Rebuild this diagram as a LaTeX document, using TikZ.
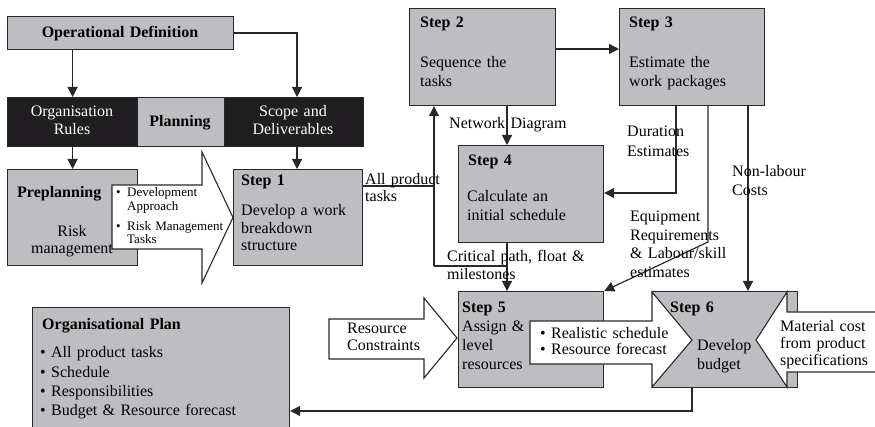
\documentclass[tikz,border=0pt]{standalone}
\usepackage{fontspec}
\setmainfont{Liberation Serif}
\usetikzlibrary{arrows.meta}
\definecolor{boxgray}{RGB}{190,190,194}
\definecolor{bandblack}{RGB}{32,30,32}
\definecolor{linec}{RGB}{40,40,40}
\tikzset{
  box/.style={draw=linec, fill=boxgray, line width=1.2pt, inner sep=0pt, anchor=north west},
  bandbox/.style={draw=linec, fill=bandblack, line width=1.2pt, inner sep=0pt, anchor=north west},
  conn/.style={draw=linec, line width=1.2pt},
  arr/.style={conn, -{Triangle[length=10pt,width=10pt]}},
  fat/.style={draw=linec, fill=white, line width=1.1pt, line join=miter},
  txt/.style={anchor=base west, inner sep=0pt, text width=#1, align=left,
    font=\fontsize{16}{18.5}\selectfont},
  txt/.default=160pt,
  ctxt/.style={anchor=base, inner sep=0pt, text width=#1, align=center,
    font=\fontsize{16}{18.5}\selectfont},
  ctxt/.default=130pt,
  head/.style={txt, font=\fontsize{16}{18.5}\selectfont\bfseries},
}
\newcommand{\bul}{\makebox[11pt][l]{\textbullet}}
\newcommand{\ind}{\hspace*{11pt}}
\begin{document}
\begin{tikzpicture}[x=1pt,y=-1pt]
\useasboundingbox (0,0) rectangle (875,427);

% ---------- top: definition and planning band ----------
\node[box, minimum width=226pt, minimum height=33pt] (opdef) at (7,16) {};
\node[ctxt=220pt, font=\fontsize{16}{18.5}\selectfont\bfseries] (opdeft) at (120,38) {Operational Definition};

\node[bandbox, minimum width=130pt, minimum height=49pt] (orgrules) at (7,97) {};
\node[box, minimum width=87pt, minimum height=49pt] (planning) at (137,97) {};
\node[bandbox, minimum width=139pt, minimum height=49pt] (scope) at (224,97) {};
\node[ctxt, text=white] (orgrulest) at (72,117) {Organisation\\[-0.5pt]Rules};
\node[ctxt=85pt, font=\fontsize{16}{18.5}\selectfont\bfseries] (planningt) at (180,127) {Planning};
\node[ctxt, text=white] (scopet) at (293,117) {Scope and\\[-0.5pt]Deliverables};

\coordinate (sx) at (297,0);
\draw[arr] (opdef.south -| orgrules.north) -- (orgrules.north);
\draw[arr] (opdef.east) -| (scope.north -| sx);

% ---------- preplanning and step 1 ----------
\node[box, minimum width=130pt, minimum height=96pt] (preplan) at (7,169) {};
\node[box, minimum width=129pt, minimum height=96pt] (step1) at (233,169) {};
\draw[arr] (orgrules.south) -- (preplan.north);
\draw[arr] (scope.south -| sx) -- (step1.north -| sx);

\draw[fat] (112,185) -- (202,185) -- (202,152) -- (233,217.5) -- (202,283)
  -- (202,249) -- (112,249) -- cycle;

\node[head] (preplant) at (17,198) {Preplanning};
\node[ctxt=120pt, font=\fontsize{16}{17}\selectfont] (riskt) at (72,237) {Risk\\management};
\node[txt=110pt, font=\fontsize{13}{13.5}\selectfont] (devt) at (116,197)
  {\bul Development\\\ind Approach\\[6.5pt]\bul Risk Management\\\ind Tasks};

\node[head] (step1h) at (241,186) {Step 1};
\node[txt=120pt, font=\fontsize{16}{17.5}\selectfont] (step1t) at (241,216) {Develop a work\\breakdown\\structure};

% ---------- steps 2, 3, 4 ----------
\node[box, minimum width=146pt, minimum height=97pt] (step2) at (409,8) {};
\node[box, minimum width=145pt, minimum height=97pt] (step3) at (619,8) {};
\node[box, minimum width=145pt, minimum height=97pt] (step4) at (458,145) {};

\node[head] (step2h) at (420,28) {Step 2};
\node[txt] (step2t) at (420,68) {Sequence the\\tasks};
\node[head] (step3h) at (629,28) {Step 3};
\node[txt] (step3t) at (629,68) {Estimate the\\work packages};
\node[head] (step4h) at (468,166) {Step 4};
\node[txt] (step4t) at (467,202) {Calculate an\\initial schedule};

% ---------- steps 5 and 6 ----------
\node[box, minimum width=145pt, minimum height=96pt] (step5) at (458,291) {};
\node[box, minimum width=145pt, minimum height=96pt] (step6) at (652,291) {};

\draw[fat] (530,321) -- (652,321) -- (652,292) -- (692,340) -- (652,387)
  -- (652,364) -- (530,364) -- cycle;
\fill[white] (880,312) -- (787,312) -- (787,292) -- (756,340) -- (787,387)
  -- (787,372) -- (880,372) -- cycle;
\draw[fat, fill=none] (880,312) -- (787,312) -- (787,292) -- (756,340) -- (787,387)
  -- (787,372) -- (880,372);
\draw[fat] (329,319) -- (424,319) -- (424,298) -- (457,338) -- (424,378)
  -- (424,359) -- (329,359) -- cycle;

\node[head] (step5h) at (462,313) {Step 5};
\node[txt=80pt] (step5t) at (462,332) {Assign \&\\level\\resources};
\node[txt, font=\fontsize{16}{17}\selectfont] (reals) at (540,338) {\bul Realistic schedule\\\bul Resource forecast};
\node[head] (step6h) at (670,313) {Step 6};
\node[txt=70pt, font=\fontsize{16}{19.5}\selectfont] (step6t) at (697,350) {Develop\\budget};
\node[txt=100pt, font=\fontsize{16}{16.5}\selectfont] (matt) at (780,332) {Material cost\\from product\\specifications};
\node[txt=100pt, font=\fontsize{16}{16.5}\selectfont] (rest) at (347,334) {Resource\\Constraints};

% ---------- organisational plan ----------
\node[box, minimum width=257pt, minimum height=120pt] (orgplan) at (32,307) {};
\node[head] (orgplanh) at (42,330) {Organisational Plan};
\node[txt=240pt, font=\fontsize{16}{19.3}\selectfont] (orgplant) at (40,358)
  {\bul All product tasks\\\bul Schedule\\\bul Responsibilities\\\bul Budget \& Resource forecast};

% ---------- connectors between the steps ----------
\coordinate (j1) at (434,186);
\coordinate (j2) at (434,266);
\coordinate (nx) at (507,0);
\coordinate (r1) at (0,49);
\coordinate (du) at (676,193);
\coordinate (eq) at (708,242);
\coordinate (nl) at (748,0);
\coordinate (bt) at (692,411);

\draw[conn] (step1.east |- j1) -- (j1);
\draw[arr] (j2) -- (j2 |- step2.south);
\draw[arr] (step2.east |- r1) -- (step3.west |- r1);
\draw[arr] (step2.south -| nx) -- (step4.north -| nx);
\draw[arr] (step4.south -| nx) -- (step5.north -| nx);
\draw[conn] (j2 -| nx) -- (j2);
\draw[arr] (step3.south -| du) -- (du) -- (step4.east |- du);
\draw[arr] (step3.south -| eq) -- (eq) -- (step5.north east);
\draw[arr] (step3.south -| nl) -- (step6.north -| nl);
\draw[arr] (step6.south -| bt) -- (bt) -- (orgplan.east |- bt);

% ---------- connector labels ----------
\node[txt=80pt] (allt) at (365,185) {All product\\[-2pt]tasks};
\node[txt] (netl) at (449,129) {Network Diagram};
\node[txt] (crit) at (447,262) {Critical path, float \&\\[-0.5pt]milestones};
\node[txt] (durl) at (627,137) {Duration\\[1pt]Estimates};
\node[txt] (equl) at (630,222) {Equipment\\Requirements\\\& Labour/skill\\estimates};
\node[txt] (nonl) at (732,177) {Non-labour\\Costs};
\end{tikzpicture}
\end{document}
